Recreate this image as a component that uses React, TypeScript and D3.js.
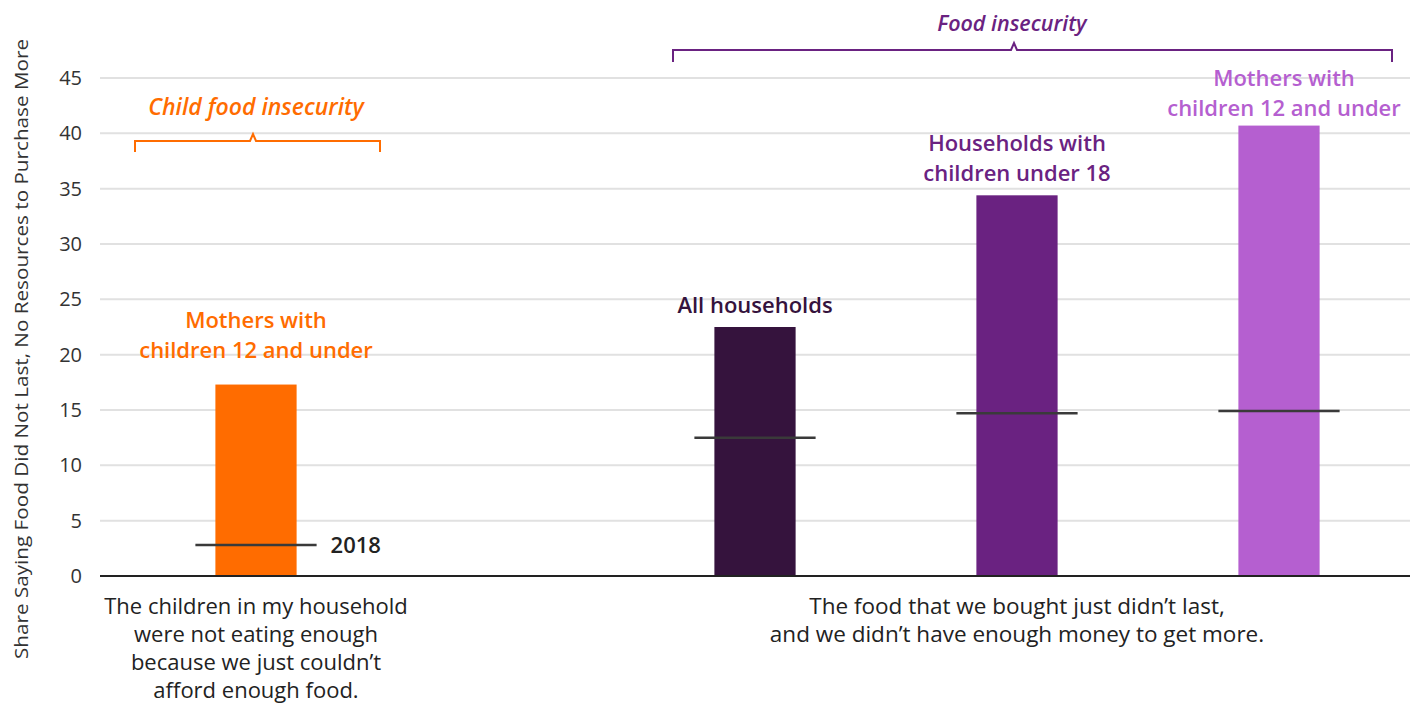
import React from "react";
import * as d3 from "d3";

const leftCategory = ["child"];
const rightCategories = ["all", "hh18", "mothers"];
const barValues = [17.3, 22.5, 34.4, 40.7];
const refValues = [2.8, 12.5, 14.7, 14.9];
const barColors = ["#ff6c00", "#35133d", "#6a2281", "#b55fd0"];
const barLabels = [
  ["Mothers with", "children 12 and under"],
  ["All households"],
  ["Households with", "children under 18"],
  ["Mothers with", "children 12 and under"],
];
const yTicks = [0, 5, 10, 15, 20, 25, 30, 35, 40, 45];
const leftAxisLabel = ["The children in my household", "were not eating enough", "because we just couldn\u2019t", "afford enough food."];
const rightAxisLabel = ["The food that we bought just didn\u2019t last,", "and we didn\u2019t have enough money to get more."];
const refLabel = "2018";
const yTitle = "Share Saying Food Did Not Last, No Resources to Purchase More";
const groupTitles = ["Child food insecurity", "Food insecurity"];
const groupColors = ["#ff6c00", "#6a2281"];

const W = 1427;
const H = 706;
const plotLeft = 100;
const plotRight = 1410;
const y0 = 576;
const yTop = 78;
const font = "'Open Sans', sans-serif";
const labelGap = [27, 14, 14, 10];
const labelShift = [0, 0, 0, 5];

export default function App() {
  const y = d3.scaleLinear().domain([0, 45]).range([y0, yTop]);
  const xRight = d3
    .scaleBand<string>()
    .domain(rightCategories)
    .range([plotRight - 786, plotRight])
    .paddingInner(0.69)
    .paddingOuter(0.345);
  const xLeft = d3.scaleBand<string>().domain(leftCategory).range([plotLeft, plotLeft + 312]);
  const bw = xRight.bandwidth();
  const centers = [
    (xLeft("child") as number) + xLeft.bandwidth() / 2,
    ...rightCategories.map((c) => (xRight(c) as number) + bw / 2),
  ];
  const refHalf = bw / 2 + 20;

  const leftCenter = centers[0];
  const rightCenter = (centers[1] + centers[3]) / 2;

  return (
    <svg width={W} height={H} style={{ display: "block", position: "absolute", left: 0, top: 0 }} fontFamily={font}>
      <rect width={W} height={H} fill="#fff" />
      {yTicks.map((t) => (
        <line key={"g" + t} x1={plotLeft} x2={plotRight} y1={y(t)} y2={y(t)} stroke={t === 0 ? "#222" : "#e1e1e1"} strokeWidth={2} />
      ))}
      {yTicks.map((t) => (
        <text key={"t" + t} x={82} y={y(t)} dy="0.35em" textAnchor="end" fontSize={20} fill="#333">
          {t}
        </text>
      ))}
      <text
        transform={`translate(22,${(38 + 660) / 2}) rotate(-90)`}
        textAnchor="middle"
        dy="0.35em"
        fontSize={18.5}
        fill="#333"
        textLength={620}
        lengthAdjust="spacingAndGlyphs"
      >
        {yTitle}
      </text>
      {barValues.map((v, i) => (
        <rect key={"b" + i} x={centers[i] - bw / 2} width={bw} y={y(v)} height={y(0) - y(v)} fill={barColors[i]} />
      ))}
      <line x1={plotLeft} x2={plotRight} y1={y(0)} y2={y(0)} stroke="#222" strokeWidth={2} />
      {refValues.map((v, i) => (
        <line key={"r" + i} x1={centers[i] - refHalf} x2={centers[i] + refHalf} y1={y(v)} y2={y(v)} stroke="#3a3a3a" strokeWidth={2.5} />
      ))}
      <text x={centers[0] + refHalf + 14} y={y(refValues[0])} dy="0.35em" fontSize={22} fontWeight={600} fill="#222">
        {refLabel}
      </text>
      {barLabels.map((lines, i) => {
        const last = y(barValues[i]) - labelGap[i];
        return (
          <text key={"l" + i} textAnchor="middle" fontSize={22} fontWeight={600} fill={barColors[i]}>
            {lines.map((ln, j) => (
              <tspan key={j} x={centers[i] + labelShift[i]} y={last - (lines.length - 1 - j) * 30}>
                {ln}
              </tspan>
            ))}
          </text>
        );
      })}
      <path
        d={`M${leftCenter - 121},152 V141 H${leftCenter - 6} L${leftCenter - 3},134 L${leftCenter},141 H${leftCenter + 124} V152`}
        fill="none"
        stroke={groupColors[0]}
        strokeWidth={2}
      />
      <text x={leftCenter} y={115} textAnchor="middle" fontSize={23} fontWeight={600} fontStyle="italic" fill={groupColors[0]}>
        {groupTitles[0]}
      </text>
      <path
        d={`M673,62 V50 H${rightCenter - 6} L${rightCenter - 3},43 L${rightCenter},50 H1392 V62`}
        fill="none"
        stroke={groupColors[1]}
        strokeWidth={2}
      />
      <text x={rightCenter - 5} y={31} textAnchor="middle" fontSize={21.5} fontWeight={600} fontStyle="italic" fill={groupColors[1]}>
        {groupTitles[1]}
      </text>
      <text textAnchor="middle" fontSize={22} fill="#222">
        {leftAxisLabel.map((ln, j) => (
          <tspan key={j} x={leftCenter} y={614 + j * 28}>
            {ln}
          </tspan>
        ))}
      </text>
      <text textAnchor="middle" fontSize={22.5} fill="#222">
        {rightAxisLabel.map((ln, j) => (
          <tspan key={j} x={rightCenter} y={614 + j * 28}>
            {ln}
          </tspan>
        ))}
      </text>
    </svg>
  );
}
